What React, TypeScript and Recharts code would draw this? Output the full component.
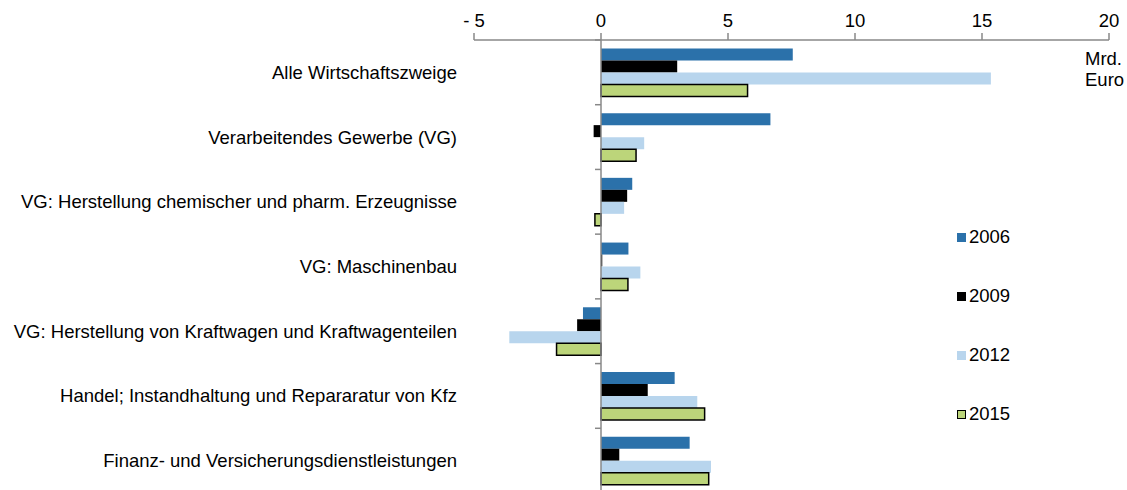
import React from 'react';
import { BarChart, Bar, XAxis, YAxis, ReferenceLine } from 'recharts';

const categories = [
  'Alle Wirtschaftszweige',
  'Verarbeitendes Gewerbe (VG)',
  'VG: Herstellung chemischer und pharm. Erzeugnisse',
  'VG: Maschinenbau',
  'VG: Herstellung von Kraftwagen und Kraftwagenteilen',
  'Handel; Instandhaltung und Repararatur von Kfz',
  'Finanz- und Versicherungsdienstleistungen',
];

const years = ['2006', '2009', '2012', '2015'];

const values2006 = [7.55, 6.67, 1.23, 1.08, -0.71, 2.9, 3.49];
const values2009 = [3.0, -0.29, 1.03, 0.05, -0.94, 1.84, 0.72];
const values2012 = [15.35, 1.7, 0.91, 1.55, -3.61, 3.79, 4.33];
const values2015 = [5.77, 1.38, -0.24, 1.06, -1.75, 4.08, 4.24];

const xTicks = [-5, 0, 5, 10, 15, 20];

const data = categories.map((name, i) => ({
  name,
  '2006': values2006[i],
  '2009': values2009[i],
  '2012': values2012[i],
  '2015': values2015[i],
}));

const COLORS: Record<string, string> = {
  '2006': '#2b71aa',
  '2009': '#000000',
  '2012': '#b8d5ed',
  '2015': '#bcd57a',
};

const FONT = '"Liberation Sans", Arial, sans-serif';
const FS = 18.5;
const WIDTH = 1127;
const HEIGHT = 490;
const MARGIN = { top: 10, right: 18, bottom: -3, left: 0 };
const Y_WIDTH = 474;
const X_HEIGHT = 30;
const X_MIN = -5;
const X_MAX = 20;

const plotLeft = MARGIN.left + Y_WIDTH;
const plotW = WIDTH - plotLeft - MARGIN.right;
const plotH = HEIGHT - MARGIN.top - X_HEIGHT - MARGIN.bottom;
const band = plotH / categories.length;
const zeroX = plotLeft + ((0 - X_MIN) / (X_MAX - X_MIN)) * plotW;

// label + short boundary tick on the zero line
const CategoryTick = (props: any) => {
  const { x, y, payload } = props;
  const top = y - band / 2;
  return (
    <g>
      <text x={x} y={y} dy={6.5} textAnchor="end" fontSize={FS} fontFamily={FONT} fill="#000">
        {payload.value}
      </text>
      <line x1={zeroX - 6} x2={zeroX} y1={top} y2={top} stroke="#888" strokeWidth={1.5} />
    </g>
  );
};

const LegendBox = () => (
  <div
    style={{
      position: 'absolute',
      left: 957,
      top: 227,
      fontFamily: FONT,
      fontSize: FS,
      color: '#000',
    }}
  >
    {years.map((y) => (
      <div key={y} style={{ height: 59, display: 'flex', alignItems: 'flex-start' }}>
        <span
          style={{
            display: 'inline-block',
            width: y === '2015' ? 7 : 9,
            height: y === '2015' ? 7 : 9,
            background: COLORS[y],
            border: y === '2015' ? '1px solid #000' : 'none',
            marginTop: 6,
            marginRight: 3,
          }}
        />
        <span style={{ lineHeight: '20px' }}>{y}</span>
      </div>
    ))}
  </div>
);

export default function App() {
  return (
    <div style={{ position: 'absolute', left: 0, top: 0, width: WIDTH, height: HEIGHT, background: '#fff' }}>
      <BarChart
        width={WIDTH}
        height={HEIGHT}
        data={data}
        layout="vertical"
        margin={MARGIN}
        barCategoryGap="13%"
        barGap={0}
      >
        <XAxis
          type="number"
          orientation="top"
          domain={[X_MIN, X_MAX]}
          ticks={xTicks}
          height={X_HEIGHT}
          tickFormatter={(v: number) => (v < 0 ? `- ${Math.abs(v)}` : `${v}`)}
          tick={{ fontSize: FS, fontFamily: FONT, fill: '#000' }}
          stroke="#888"
          strokeWidth={1.5}
          tickSize={7}
          tickMargin={6}
        />
        <YAxis
          type="category"
          dataKey="name"
          width={Y_WIDTH}
          axisLine={false}
          tickLine={false}
          tickSize={0}
          tickMargin={17}
          interval={0}
          tick={<CategoryTick />}
        />
        {years.map((y) => (
          <Bar
            key={y}
            dataKey={y}
            fill={COLORS[y]}
            stroke={y === '2015' ? '#000' : undefined}
            strokeWidth={y === '2015' ? 1.5 : 0}
            isAnimationActive={false}
          />
        ))}
        <ReferenceLine x={0} stroke="#888" strokeWidth={1.5} />
      </BarChart>
      <LegendBox />
      <div
        style={{
          position: 'absolute',
          left: 1085,
          top: 48,
          fontFamily: FONT,
          fontSize: FS,
          lineHeight: '21px',
          color: '#000',
        }}
      >
        Mrd.
        <br />
        Euro
      </div>
    </div>
  );
}
